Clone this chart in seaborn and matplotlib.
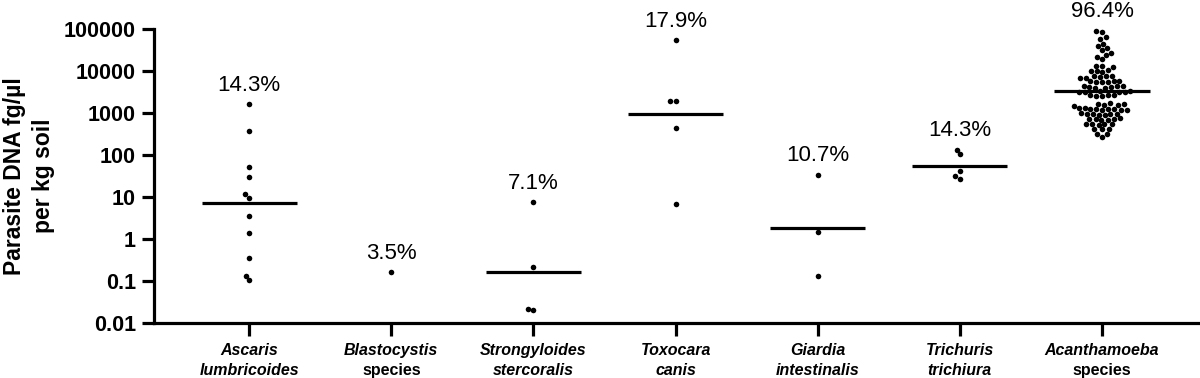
import numpy as np
import pandas as pd
import matplotlib
matplotlib.use("Agg")
import matplotlib.pyplot as plt
import seaborn as sns
from matplotlib.transforms import blended_transform_factory
from matplotlib.ticker import FixedLocator, FixedFormatter, NullLocator

sns.set_theme(style="ticks")
plt.rcParams['font.family'] = ['Liberation Sans', 'DejaVu Sans']

# ---------------- data ----------------
genus = ["Ascaris", "Blastocystis", "Strongyloides", "Toxocara",
         "Giardia", "Trichuris", "Acanthamoeba"]
second_line = ["lumbricoides", "species", "stercoralis", "canis",
               "intestinalis", "trichiura", "species"]
second_italic = [True, False, True, True, True, True, False]
prevalence = ["14.3%", "3.5%", "7.1%", "17.9%", "10.7%", "14.3%", "96.4%"]

ascaris = [1600, 370, 53, 30, 12, 9.5, 3.5, 1.4, 0.35, 0.135, 0.105]
blastocystis = [0.166]
strongyloides = [7.6, 0.22, 0.021, 0.020]
toxocara = [54000, 1950, 1900, 450, 7.0]
giardia = [34, 1.45, 0.13]
trichuris = [135, 105, 42, 32, 27]
acanthamoeba = [92000, 86000, 65000, 58000, 45000, 40000, 36000, 32000,
                27000, 24000, 22000, 19000, 13500, 13000, 12500,
                10500, 10000, 9800, 9500,
                7800, 7600, 7400, 7200, 7000, 6800,
                5900, 5800, 5700, 5600, 5500, 5400,
                4500, 4400, 4300, 4200, 4100, 4000, 3900,
                3400, 3300, 3250, 3200, 3150, 3100,
                2750, 2700, 2650, 2600, 2550,
                1700, 1650, 1600, 1580, 1550, 1500,
                1300, 1280, 1260, 1250, 1240, 1220, 1200, 1190, 1180,
                980, 960, 950, 940, 930, 920, 900,
                740, 730, 720, 710, 700, 690,
                560, 550, 545, 540, 530,
                420, 415, 410,
                320, 315, 270]
center_line = [7.1, np.nan, 0.166, 930, 1.8, 55, 3400]

ytick_values = [0.01, 0.1, 1, 10, 100, 1000, 10000, 100000]
ytick_labels = ["0.01", "0.1", "1", "10", "100", "1000", "10000", "100000"]

series = [ascaris, blastocystis, strongyloides, toxocara,
          giardia, trichuris, acanthamoeba]
df = pd.DataFrame({
    "parasite": np.concatenate([[g] * len(v) for g, v in zip(genus, series)]),
    "dna": np.concatenate([np.asarray(v, float) for v in series]),
})

# ---------------- figure ----------------
fig = plt.figure(figsize=(12, 3.78), dpi=100)
ax = fig.add_axes([154 / 1200, 55 / 378, 1046 / 1200, 294 / 378])

sns.swarmplot(data=df, x="parasite", y="dna", order=genus, color="black",
              size=4.0, log_scale=True, ax=ax, linewidth=0)
for coll in ax.collections:
    coll.set_clip_on(False)

ax.set_ylim(0.01, 100000)
ax.set_xlim(-0.67, 6.69)

# median / centre lines
xpos = np.arange(len(genus))
ax.hlines(center_line, xpos - 0.335, xpos + 0.335, color="black", lw=2.3)

# prevalence labels
for i, (vals, pct) in enumerate(zip(series, prevalence)):
    ax.annotate(pct, xy=(i, max(vals)), xytext=(0, 13.5),
                textcoords="offset points", ha="center", va="center",
                fontsize=16, color="black", annotation_clip=False)

# axes styling
for s in ["top", "right"]:
    ax.spines[s].set_visible(False)
for s in ["left", "bottom"]:
    ax.spines[s].set_linewidth(2.3)
    ax.spines[s].set_color("black")

ax.yaxis.set_major_locator(FixedLocator(ytick_values))
ax.yaxis.set_major_formatter(FixedFormatter(ytick_labels))
ax.yaxis.set_minor_locator(NullLocator())
ax.tick_params(axis="y", length=9, width=2.3, color="black", pad=4,
               labelsize=15.5, labelcolor="black")
for lab in ax.get_yticklabels():
    lab.set_fontweight("bold")
ax.tick_params(axis="x", length=9, width=2.3, color="black")
ax.set_xticks(xpos)
ax.set_xticklabels([""] * len(genus))
ax.set_xlabel("")
ax.set_ylabel("")

# x category labels (two lines)
trans = blended_transform_factory(ax.transData, ax.transAxes)
for i in range(len(genus)):
    ax.annotate(genus[i], xy=(i, 0), xycoords=trans, xytext=(0, -19.5),
                textcoords="offset points", ha="center", va="center",
                fontsize=11.5, fontweight="bold", fontstyle="italic",
                color="black", annotation_clip=False)
    ax.annotate(second_line[i], xy=(i, 0), xycoords=trans, xytext=(0, -34),
                textcoords="offset points", ha="center", va="center",
                fontsize=11.5, fontweight="bold",
                fontstyle="italic" if second_italic[i] else "normal",
                color="black", annotation_clip=False)

fig.text(29 / 1200, 1 - 176 / 378, "Parasite DNA fg/µl\nper kg soil",
         rotation=90, ha="center", va="center", fontsize=16.5,
         fontweight="bold", color="black", linespacing=1.3,
         multialignment="center")

fig.savefig("out.png", dpi=100, facecolor="white")
